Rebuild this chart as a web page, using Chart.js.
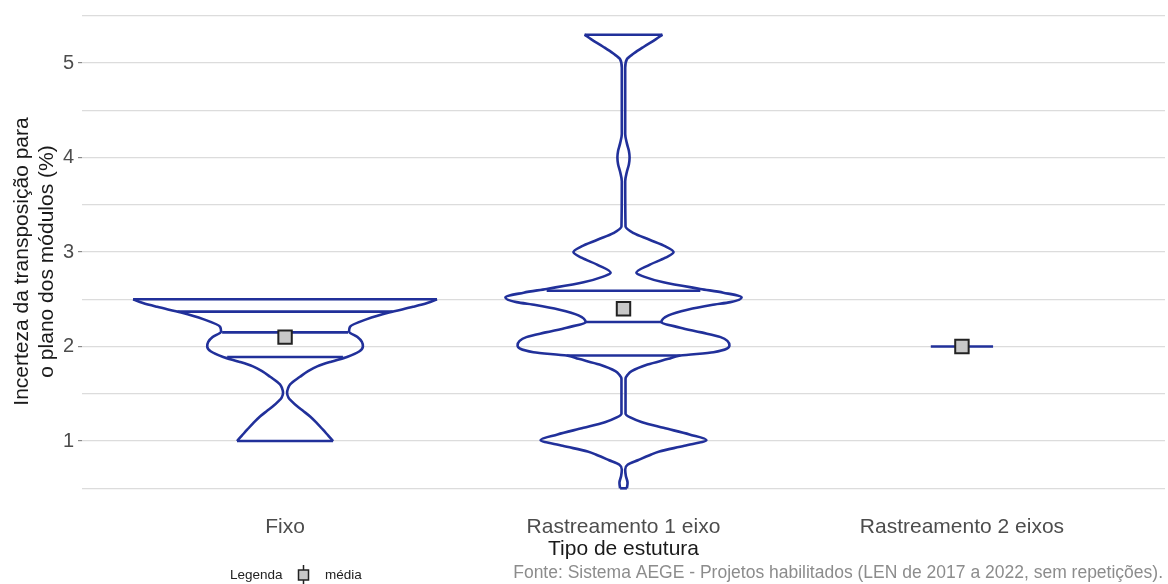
<!DOCTYPE html>
<html lang="pt">
<head>
    <meta charset="UTF-8">
    <title>Incerteza da transposição por tipo de estrutura</title>
    <script src="https://cdn.jsdelivr.net/npm/chart.js@4.4.1/dist/chart.umd.min.js"></script>
    <style>
        body {
            margin: 0;
            background: #ffffff;
        }
        .chart-container {
            width: 1168px;
            height: 584px;
            position: relative;
        }
    </style>
</head>
<body>
    <div class="chart-container">
        <canvas id="violinChart"></canvas>
    </div>

    <script>
        // categories on the x axis (placed at 1, 2, 3)
        const categories = ['Fixo', 'Rastreamento 1 eixo', 'Rastreamento 2 eixos'];
        const yGridValues = [0.5, 1, 1.5, 2, 2.5, 3, 3.5, 4, 4.5, 5, 5.5];

        // violin outlines: y level and half width (in category units)
        const fixoLevels = [1.0, 1.06, 1.12, 1.19, 1.26, 1.32, 1.37, 1.42, 1.46, 1.51, 1.56, 1.6, 1.68, 1.74, 1.79, 1.84, 1.89, 1.95, 2.0, 2.05, 2.1, 2.16, 2.21, 2.29, 2.36, 2.42, 2.46, 2.5];
        const fixoHalfWidth = [0.142, 0.127, 0.112, 0.094, 0.074, 0.053, 0.035, 0.020, 0.010, 0.006, 0.009, 0.015, 0.044, 0.068, 0.095, 0.136, 0.183, 0.220, 0.230, 0.227, 0.214, 0.189, 0.192, 0.242, 0.307, 0.378, 0.420, 0.449];

        const rast1Levels = [0.5, 0.56, 0.63, 0.7, 0.75, 0.8, 0.85, 0.89, 0.95, 1.01, 1.07, 1.14, 1.2, 1.25, 1.29, 1.66, 1.7, 1.74, 1.81, 1.87, 1.905, 1.94, 2.01, 2.06, 2.1, 2.15, 2.2, 2.26, 2.33, 2.39, 2.44, 2.47, 2.52, 2.57, 2.61, 2.68, 2.74, 2.78, 2.86, 2.94, 3.0, 3.06, 3.13, 3.2, 3.27, 3.75, 3.85, 3.93, 4.0, 4.07, 4.15, 4.25, 4.95, 5.04, 5.1, 5.17, 5.25, 5.3];
        const rast1HalfWidth = [0.010, 0.012, 0.007, 0.005, 0.012, 0.044, 0.077, 0.106, 0.180, 0.245, 0.195, 0.118, 0.055, 0.020, 0.006, 0.006, 0.012, 0.024, 0.071, 0.133, 0.168, 0.266, 0.313, 0.307, 0.287, 0.230, 0.168, 0.112, 0.133, 0.189, 0.260, 0.316, 0.349, 0.295, 0.227, 0.118, 0.060, 0.038, 0.074, 0.124, 0.148, 0.124, 0.077, 0.030, 0.006, 0.005, 0.010, 0.016, 0.018, 0.016, 0.010, 0.005, 0.005, 0.010, 0.030, 0.059, 0.095, 0.115];

        const rast2Levels = [2.0];
        const rast2HalfWidth = [0.092];

        // quantile lines (25%, 50%, 75%) drawn inside the violins
        const fixoQuantiles = [1.89, 2.15, 2.37];
        const fixoQuantileWidth = [0.171, 0.186, 0.318];
        const rast1Quantiles = [1.905, 2.26, 2.59];
        const rast1QuantileWidth = [0.168, 0.112, 0.227];

        // means
        const meanValues = [2.1, 2.4, 2.0];

        const violinColor = '#21309a';

        function lineDataset(points, smooth) {
            return {
                data: points,
                borderColor: violinColor,
                borderWidth: 2.6,
                pointRadius: 0,
                fill: false,
                tension: 0,
                cubicInterpolationMode: smooth ? 'monotone' : 'default'
            };
        }

        function violinDatasets(center, levels, halfWidth, quantiles, quantileWidth) {
            const out = [];
            const last = levels.length - 1;
            if (levels.length > 1) {
                out.push(lineDataset(levels.map((y, i) => ({ x: center + halfWidth[i], y: y })), true));
                out.push(lineDataset(levels.map((y, i) => ({ x: center - halfWidth[i], y: y })), true));
                // flat bottom
                out.push(lineDataset([{ x: center - halfWidth[0], y: levels[0] }, { x: center + halfWidth[0], y: levels[0] }], false));
            }
            // flat top (or single value line)
            out.push(lineDataset([{ x: center - halfWidth[last], y: levels[last] }, { x: center + halfWidth[last], y: levels[last] }], false));
            quantiles.forEach((q, i) => {
                out.push(lineDataset([{ x: center - quantileWidth[i], y: q }, { x: center + quantileWidth[i], y: q }], false));
            });
            return out;
        }

        const datasets = [];
        datasets.push({
            data: meanValues.map((v, i) => ({ x: i + 1, y: v })),
            showLine: false,
            pointStyle: 'rect',
            pointRadius: 9.5,
            pointBackgroundColor: '#c8c8c8',
            pointBorderColor: '#222222',
            pointBorderWidth: 2
        });
        violinDatasets(1, fixoLevels, fixoHalfWidth, fixoQuantiles, fixoQuantileWidth).forEach(d => datasets.push(d));
        violinDatasets(2, rast1Levels, rast1HalfWidth, rast1Quantiles, rast1QuantileWidth).forEach(d => datasets.push(d));
        violinDatasets(3, rast2Levels, rast2HalfWidth, [], []).forEach(d => datasets.push(d));

        // legend key and source caption below the plot
        const footerPlugin = {
            id: 'footer',
            afterDraw(chart) {
                const ctx = chart.ctx;
                ctx.save();
                ctx.textBaseline = 'middle';
                ctx.font = '13.5px "Liberation Sans", Arial, sans-serif';
                ctx.fillStyle = '#222222';
                ctx.textAlign = 'left';
                ctx.fillText('Legenda', 230, 575);
                ctx.strokeStyle = '#222222';
                ctx.lineWidth = 1.5;
                ctx.beginPath();
                ctx.moveTo(303.5, 565);
                ctx.lineTo(303.5, 585);
                ctx.stroke();
                ctx.fillStyle = '#c8c8c8';
                ctx.fillRect(298.5, 570, 10, 10);
                ctx.strokeRect(298.5, 570, 10, 10);
                ctx.fillStyle = '#222222';
                ctx.fillText('média', 325, 575);

                ctx.font = '17.5px "Liberation Sans", Arial, sans-serif';
                ctx.fillStyle = '#8c8c8c';
                ctx.textAlign = 'right';
                ctx.fillText('Fonte: Sistema AEGE - Projetos habilitados (LEN de 2017 a 2022, sem repetições).', 1163, 573);
                ctx.restore();
            }
        };

        Chart.defaults.font.family = '"Liberation Sans", Arial, sans-serif';

        const chart = new Chart(document.getElementById('violinChart'), {
            type: 'line',
            data: { datasets: datasets },
            plugins: [footerPlugin],
            options: {
                indexAxis: 'y',
                responsive: true,
                maintainAspectRatio: false,
                animation: false,
                layout: { autoPadding: false, padding: { left: 0, right: 3, top: 12, bottom: 22 } },
                plugins: {
                    legend: { display: false },
                    tooltip: { enabled: false }
                },
                scales: {
                    x: {
                        type: 'linear',
                        min: 0.4,
                        max: 3.6,
                        border: { display: false },
                        grid: { display: false, drawTicks: false },
                        afterBuildTicks: axis => {
                            axis.ticks = categories.map((c, i) => ({ value: i + 1 }));
                        },
                        afterFit: axis => {
                            axis.height = 51;
                            axis.paddingLeft = 0;
                            axis.paddingRight = 0;
                        },
                        ticks: {
                            autoSkip: false,
                            maxRotation: 0,
                            padding: 4,
                            color: '#4d4d4d',
                            font: { size: 21 },
                            callback: value => categories[value - 1]
                        },
                        title: {
                            display: true,
                            text: 'Tipo de estutura',
                            color: '#1a1a1a',
                            font: { size: 21 },
                            padding: { top: 0, bottom: 0 }
                        }
                    },
                    y: {
                        type: 'linear',
                        min: 0.26,
                        max: 5.54,
                        border: { display: false },
                        afterBuildTicks: axis => {
                            axis.ticks = yGridValues.map(v => ({ value: v }));
                        },
                        afterFit: axis => {
                            axis.width = 82;
                            axis.paddingTop = 0;
                            axis.paddingBottom = 0;
                        },
                        grid: {
                            color: '#dcdcdc',
                            lineWidth: 1.2,
                            drawTicks: true,
                            tickLength: 4,
                            tickColor: ctx => (ctx.tick && ctx.tick.value % 1 === 0) ? '#8a8a8a' : 'rgba(0,0,0,0)'
                        },
                        ticks: {
                            padding: 4,
                            color: '#4d4d4d',
                            font: { size: 20 },
                            callback: value => (value % 1 === 0 ? value : '')
                        },
                        title: {
                            display: true,
                            text: ['Incerteza da transposição para', 'o plano dos módulos (%)'],
                            color: '#1a1a1a',
                            font: { size: 21, lineHeight: 1.19 },
                            padding: { top: 9.5, bottom: 0 }
                        }
                    }
                }
            }
        });
    </script>
</body>
</html>
